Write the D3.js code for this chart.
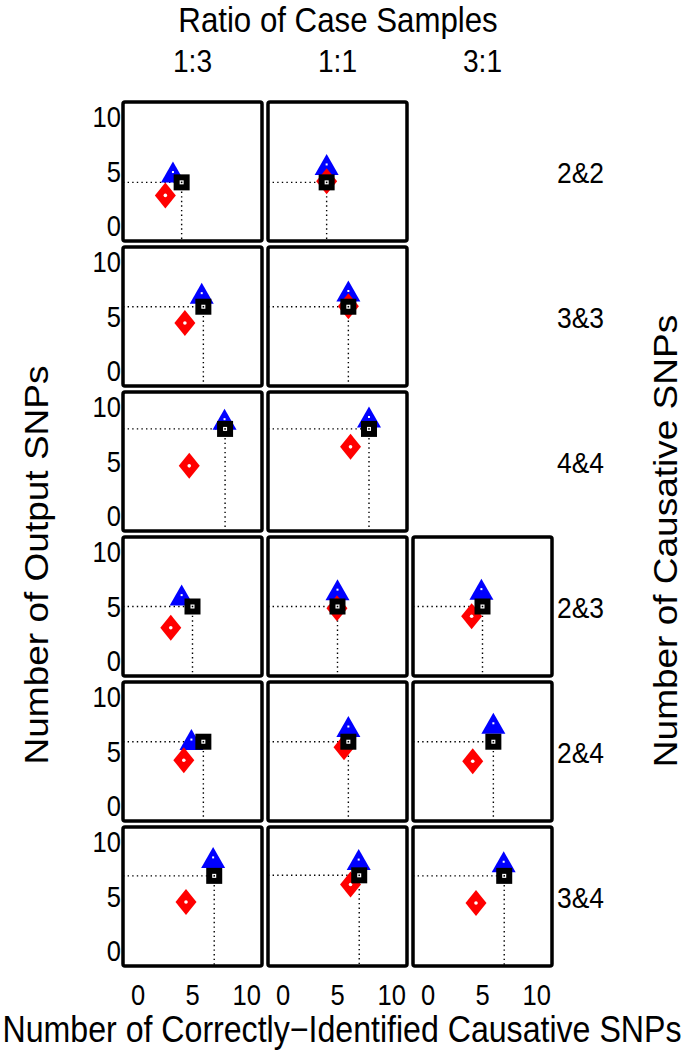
<!DOCTYPE html>
<html>
<head>
<meta charset="utf-8">
<script src="https://cdn.jsdelivr.net/npm/d3@7"></script>
<style>
  body { margin: 0; background: #fff; }
  svg text { font-family: "Liberation Sans", Arial, sans-serif; fill: #000; }
</style>
</head>
<body>
<div id="chart"></div>
<script>
// columns and rows of the grid
const ratios = ["1:3", "1:1", "3:1"];
const snpPairs = ["2&2", "3&3", "4&4", "2&3", "2&4", "3&4"];
const tickValues = [0, 5, 10];

// black squares (x, y) per row / column, null = no panel
const blackX = [[4, 4, null], [6, 6, null], [8, 7.9, null], [5, 5, 5], [6, 6, 6], [7, 7, 7]];
const blackY = [[4, 4, null], [5.9, 5.9, null], [8, 8, null], [5, 5, 5], [5.9, 5.9, 5.9], [6.9, 6.95, 6.9]];
// blue triangles
const blueX = [[3.2, 4, null], [5.85, 6, null], [7.95, 7.9, null], [4, 5, 4.9], [4.9, 6, 6], [6.9, 6.95, 6.95]];
const blueY = [[4.95, 5.65, null], [7.15, 7.35, null], [8.9, 9.1, null], [6.05, 6.55, 6.6], [6.1, 7.3, 7.6], [8.6, 8.4, 8.2]];
// red diamonds
const redX = [[2.5, 4, null], [4.3, 6, null], [4.7, 6.2, null], [3, 4.95, 4], [4.2, 5.6, 4.1], [4.4, 6.2, 4.4]];
const redY = [[2.8, 4.1, null], [4.4, 5.95, null], [4.6, 6.35, null], [3.05, 4.85, 4.1], [4.2, 5.4, 4.1], [4.5, 6.1, 4.4]];

const width = 685;
const height = 1050;
const sx = 0.88; // text is a bit narrow in the original

const svg = d3.select("#chart")
  .append("svg")
  .attr("width", width)
  .attr("height", height);

const col = d3.scaleBand().domain(ratios).range([123, 552]).paddingInner(6 / 145);
const row = d3.scaleBand().domain(snpPairs).range([102, 966]).paddingInner(6 / 145);
const size = col.bandwidth();

const x = d3.scaleLinear().domain([-1.4, 11.4]).range([0, size]);
const y = d3.scaleLinear().domain([-1.4, 11.4]).range([size, 0]);

function label(g, txt, px, py, fs, anchor, rot) {
  const t = g.append("text")
    .attr("font-size", fs)
    .attr("text-anchor", anchor || "middle")
    .text(txt);
  if (rot) t.attr("transform", `translate(${px},${py}) rotate(${rot}) scale(1,${sx})`);
  else t.attr("transform", `translate(${px},${py}) scale(${sx},1)`);
  return t;
}

// titles
label(svg, "Ratio of Case Samples", 338, 32, 35.5);
ratios.forEach(r => label(svg, r, col(r) + size / 2, 72, 32));
label(svg, "Number of Correctly\u2212Identified Causative SNPs", 342, 1042, 36.5);
label(svg, "Number of Output SNPs", 48, 565, 37, "middle", -90);
label(svg, "Number of Causative SNPs", 677, 541, 37, "middle", -90);

snpPairs.forEach((p, i) => {
  label(svg, p, 557, row(p) + size / 2 + 11, 30, "start");
  // y tick labels
  tickValues.forEach(v => label(svg, v, 121, row(p) + y(v) + 10, 29, "end"));

  ratios.forEach((r, j) => {
    if (blackX[i][j] == null) return;
    const g = svg.append("g").attr("transform", `translate(${col(r)},${row(p)})`);

    // dotted guide lines from the square
    g.append("line")
      .attr("x1", 0).attr("x2", x(blackX[i][j]))
      .attr("y1", y(blackY[i][j])).attr("y2", y(blackY[i][j]))
      .attr("stroke", "#000").attr("stroke-width", 1.4)
      .attr("stroke-dasharray", "1.4,3.2");
    g.append("line")
      .attr("x1", x(blackX[i][j])).attr("x2", x(blackX[i][j]))
      .attr("y1", y(blackY[i][j])).attr("y2", size)
      .attr("stroke", "#000").attr("stroke-width", 1.4)
      .attr("stroke-dasharray", "1.4,3.2");

    // blue triangle
    const bx = x(blueX[i][j]), by = y(blueY[i][j]);
    g.append("path")
      .attr("d", `M${bx},${by - 10.5}L${bx + 12},${by + 10.5}L${bx - 12},${by + 10.5}Z`)
      .attr("fill", "#0000ff");
    g.append("rect").attr("x", bx - 1).attr("y", by - 1).attr("width", 2).attr("height", 2).attr("fill", "#fff");

    // red diamond
    const rx = x(redX[i][j]), ry = y(redY[i][j]);
    g.append("path")
      .attr("d", `M${rx},${ry - 13}L${rx + 10.5},${ry}L${rx},${ry + 13}L${rx - 10.5},${ry}Z`)
      .attr("fill", "#ff0000");
    g.append("circle").attr("cx", rx).attr("cy", ry).attr("r", 1.8).attr("fill", "#fff");

    // black square
    const kx = x(blackX[i][j]), ky = y(blackY[i][j]);
    g.append("rect")
      .attr("x", kx - 8).attr("y", ky - 8).attr("width", 16).attr("height", 16)
      .attr("fill", "#000");
    g.append("rect")
      .attr("x", kx - 2).attr("y", ky - 2).attr("width", 4).attr("height", 4)
      .attr("fill", "#fff");
    g.append("rect")
      .attr("x", kx - 0.8).attr("y", ky - 0.8).attr("width", 1.6).attr("height", 1.6)
      .attr("fill", "#000");

    // panel box
    g.append("rect")
      .attr("width", size).attr("height", size)
      .attr("fill", "none").attr("stroke", "#000")
      .attr("stroke-width", 3.5).attr("rx", 2);
  });
});

// x tick labels under each column
ratios.forEach(r => {
  tickValues.forEach(v => label(svg, v, col(r) + x(v), 1005, 29));
});
</script>
</body>
</html>
